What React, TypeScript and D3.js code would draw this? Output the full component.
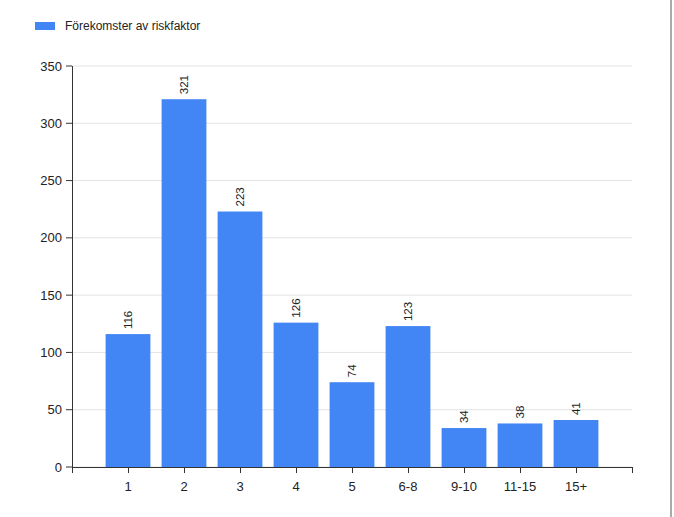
import React from "react";
import * as d3 from "d3";

const categories = ["1", "2", "3", "4", "5", "6-8", "9-10", "11-15", "15+"];
const values = [116, 321, 223, 126, 74, 123, 34, 38, 41];
const yTicks = [0, 50, 100, 150, 200, 250, 300, 350];
const seriesName = "Förekomster av riskfaktor";

const W = 674;
const H = 517;
const FONT = "Arial, 'Liberation Sans', sans-serif";

export default function App() {
  const x = d3.scaleLinear().domain([0, categories.length + 1]).range([72, 632]);
  const y = d3.scaleLinear().domain([0, 350]).range([467, 66]);
  const step = x(1) - x(0);
  const bw = step * 0.8;
  const xTickPositions = d3.range(0, categories.length + 2);

  return (
    <svg
      width={W}
      height={H}
      style={{ position: "absolute", left: 0, top: 0, background: "#fff" }}
      fontFamily={FONT}
    >
      <rect x={0} y={0} width={W} height={H} fill="#fff" />
      {/* legend */}
      <rect x={35} y={22} width={20} height={8} fill="#4285f4" />
      <text x={65} y={30} fontSize={12} fill="#222">{seriesName}</text>

      {/* gridlines */}
      {yTicks.map((t) => (
        <line key={"g" + t} x1={72} x2={632} y1={y(t)} y2={y(t)} stroke="#e3e3e3" strokeWidth={1} />
      ))}

      {/* bars */}
      {values.map((v, i) => (
        <rect
          key={"b" + i}
          x={x(i + 1) - bw / 2}
          y={y(v)}
          width={bw}
          height={y(0) - y(v)}
          fill="#4285f4"
        />
      ))}

      {/* value labels */}
      {values.map((v, i) => {
        const cx = x(i + 1) + 4;
        const cy = y(v) - 5;
        return (
          <text
            key={"v" + i}
            x={cx}
            y={cy}
            fontSize={11.5}
            fill="#222"
            textAnchor="start"
            transform={`rotate(-90 ${cx} ${cy})`}
          >
            {v}
          </text>
        );
      })}

      {/* y axis */}
      <line x1={72.5} x2={72.5} y1={y(350)} y2={y(0)} stroke="#333" strokeWidth={1} />
      {yTicks.map((t) => (
        <g key={"yt" + t}>
          <line x1={66} x2={72} y1={y(t)} y2={y(t)} stroke="#333" strokeWidth={1} />
          <text x={62} y={y(t) + 4.5} fontSize={13} fill="#222" textAnchor="end">
            {t}
          </text>
        </g>
      ))}

      {/* x axis */}
      <line x1={72} x2={632} y1={y(0) + 0.5} y2={y(0) + 0.5} stroke="#333" strokeWidth={1} />
      {xTickPositions.map((p) => (
        <line key={"xt" + p} x1={x(p) + 0.5} x2={x(p) + 0.5} y1={y(0)} y2={y(0) + 6} stroke="#333" strokeWidth={1} />
      ))}
      {categories.map((c, i) => (
        <text key={"xl" + i} x={x(i + 1)} y={491} fontSize={13} fill="#222" textAnchor="middle">
          {c}
        </text>
      ))}

      {/* right border */}
      <rect x={670} y={0} width={2} height={H} fill="#aaa" />
    </svg>
  );
}
